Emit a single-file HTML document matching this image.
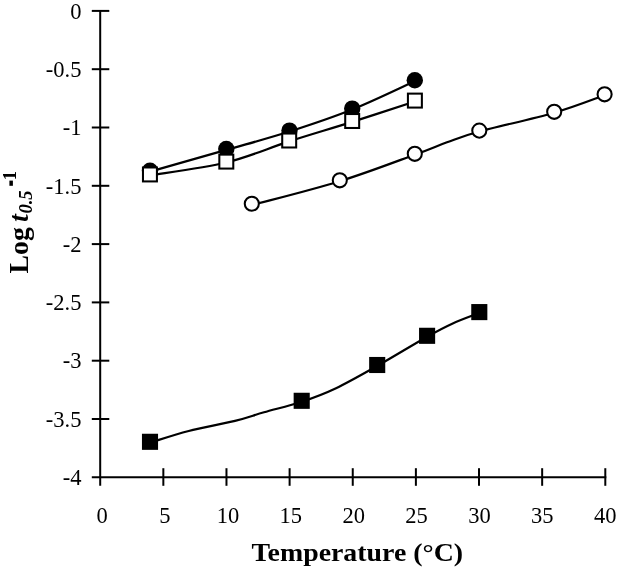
<!DOCTYPE html>
<html><head><meta charset="utf-8"><title>Chart</title>
<style>
html,body{margin:0;padding:0;background:#fff;}
body{width:617px;height:571px;overflow:hidden;font-family:"Liberation Serif",serif;}
svg{display:block;will-change:transform;}
</style></head><body>
<svg width="617" height="571" viewBox="0 0 617 571">
<rect width="617" height="571" fill="#fff"/>
<g stroke="#000" stroke-width="2.00" fill="none" stroke-linecap="butt">
<line x1="100.20" y1="9.90" x2="100.20" y2="485.80"/>
<line x1="91.80" y1="477.30" x2="606.30" y2="477.30"/>
<line x1="91.80" y1="10.90" x2="109.30" y2="10.90"/>
<line x1="91.80" y1="69.20" x2="109.30" y2="69.20"/>
<line x1="91.80" y1="127.50" x2="109.30" y2="127.50"/>
<line x1="91.80" y1="185.80" x2="109.30" y2="185.80"/>
<line x1="91.80" y1="244.10" x2="109.30" y2="244.10"/>
<line x1="91.80" y1="302.40" x2="109.30" y2="302.40"/>
<line x1="91.80" y1="360.70" x2="109.30" y2="360.70"/>
<line x1="91.80" y1="419.00" x2="109.30" y2="419.00"/>
<line x1="163.34" y1="468.20" x2="163.34" y2="485.80"/>
<line x1="226.47" y1="468.20" x2="226.47" y2="485.80"/>
<line x1="289.61" y1="468.20" x2="289.61" y2="485.80"/>
<line x1="352.75" y1="468.20" x2="352.75" y2="485.80"/>
<line x1="415.89" y1="468.20" x2="415.89" y2="485.80"/>
<line x1="479.02" y1="468.20" x2="479.02" y2="485.80"/>
<line x1="542.16" y1="468.20" x2="542.16" y2="485.80"/>
<line x1="605.30" y1="468.20" x2="605.30" y2="485.80"/>
</g>
<g font-family="'Liberation Serif', serif" font-size="22.5px" fill="#000">
<text x="81.4" y="18.60" text-anchor="end">0</text>
<text x="81.4" y="76.90" text-anchor="end">-0.5</text>
<text x="81.4" y="135.20" text-anchor="end">-1</text>
<text x="81.4" y="193.50" text-anchor="end">-1.5</text>
<text x="81.4" y="251.80" text-anchor="end">-2</text>
<text x="81.4" y="310.10" text-anchor="end">-2.5</text>
<text x="81.4" y="368.40" text-anchor="end">-3</text>
<text x="81.4" y="426.70" text-anchor="end">-3.5</text>
<text x="81.4" y="485.00" text-anchor="end">-4</text>
<text x="102.10" y="523.2" text-anchor="middle">0</text>
<text x="164.99" y="523.2" text-anchor="middle">5</text>
<text x="227.88" y="523.2" text-anchor="middle">10</text>
<text x="290.76" y="523.2" text-anchor="middle">15</text>
<text x="353.65" y="523.2" text-anchor="middle">20</text>
<text x="416.54" y="523.2" text-anchor="middle">25</text>
<text x="479.42" y="523.2" text-anchor="middle">30</text>
<text x="542.31" y="523.2" text-anchor="middle">35</text>
<text x="605.20" y="523.2" text-anchor="middle">40</text>
</g>
<text transform="translate(357.30 561.30) scale(1.1060 1)" text-anchor="middle" font-family="'Liberation Serif', serif" font-weight="bold" fill="#000" font-size="25.20px">Temperature (°C)</text>
<g transform="translate(28.20 273.50) rotate(-90)" font-family="'Liberation Serif', serif" font-weight="bold" fill="#000">
<text x="0" y="0" font-size="27.80px">Log</text>
<text x="51.50" y="0" font-size="27.80px" font-style="italic">t</text>
<text x="59.90" y="3.50" font-size="18.50px" font-style="italic">0.5</text>
<rect x="87.7" y="-18.8" width="5.2" height="3.5" fill="#000"/>
<text x="93.20" y="-12.50" font-size="18.50px">1</text>
</g>
<g stroke="#000" stroke-width="2.20" fill="none" stroke-linejoin="round">
<path d="M150.00 442.70 C156.45 440.75 174.53 434.63 188.70 431.00 C202.87 427.37 222.45 424.02 235.00 420.90 C247.55 417.78 252.88 415.50 264.00 412.30 C275.12 409.10 289.78 405.68 301.70 401.70 C313.62 397.72 322.92 394.37 335.50 388.40 C348.08 382.43 361.93 374.52 377.20 365.90 C392.47 357.28 414.68 343.70 427.10 336.70 C439.52 329.70 443.00 327.85 451.70 323.90 C460.40 319.95 474.70 314.82 479.30 313.00"/>
<path d="M251.80 205.10 C266.47 201.12 312.63 189.60 339.80 181.20 C366.97 172.80 396.93 161.18 414.80 154.70 C432.67 148.22 436.25 146.17 447.00 142.30 C457.75 138.43 461.43 136.43 479.30 131.50 C497.17 126.57 533.32 118.75 554.20 112.70 C575.08 106.65 596.20 98.12 604.60 95.20"/>
<path d="M150.00 171.60 C162.72 167.98 203.05 156.58 226.30 149.90 C249.55 143.22 268.52 138.23 289.50 131.50 C310.48 124.77 331.32 117.88 352.20 109.50 C373.08 101.12 404.37 85.92 414.80 81.20"/>
<path d="M149.95 175.35 C162.67 173.21 203.09 168.16 226.30 162.50 C249.51 156.84 268.22 148.17 289.20 141.40 C310.18 134.63 331.25 128.55 352.20 121.90 C373.15 115.25 404.45 104.90 414.90 101.50"/>
</g>
<rect x="141.95" y="433.75" width="16.10" height="16.10" fill="#000"/>
<rect x="293.65" y="392.75" width="16.10" height="16.10" fill="#000"/>
<rect x="369.15" y="356.95" width="16.10" height="16.10" fill="#000"/>
<rect x="419.05" y="327.75" width="16.10" height="16.10" fill="#000"/>
<rect x="471.25" y="304.05" width="16.10" height="16.10" fill="#000"/>
<circle cx="251.80" cy="203.70" r="7.05" fill="#fff" stroke="#000" stroke-width="2.05"/>
<circle cx="339.80" cy="180.30" r="7.05" fill="#fff" stroke="#000" stroke-width="2.05"/>
<circle cx="414.80" cy="153.80" r="7.05" fill="#fff" stroke="#000" stroke-width="2.05"/>
<circle cx="479.30" cy="130.60" r="7.05" fill="#fff" stroke="#000" stroke-width="2.05"/>
<circle cx="554.20" cy="111.80" r="7.05" fill="#fff" stroke="#000" stroke-width="2.05"/>
<circle cx="604.60" cy="94.30" r="7.05" fill="#fff" stroke="#000" stroke-width="2.05"/>
<circle cx="150.00" cy="170.70" r="8.20" fill="#000"/>
<circle cx="226.30" cy="149.00" r="8.20" fill="#000"/>
<circle cx="289.50" cy="130.60" r="8.20" fill="#000"/>
<circle cx="352.20" cy="108.60" r="8.20" fill="#000"/>
<circle cx="414.80" cy="80.30" r="8.20" fill="#000"/>
<rect x="142.97" y="167.47" width="13.95" height="13.95" fill="#fff" stroke="#000" stroke-width="2.05"/>
<rect x="219.33" y="154.62" width="13.95" height="13.95" fill="#fff" stroke="#000" stroke-width="2.05"/>
<rect x="282.22" y="133.53" width="13.95" height="13.95" fill="#fff" stroke="#000" stroke-width="2.05"/>
<rect x="345.22" y="114.03" width="13.95" height="13.95" fill="#fff" stroke="#000" stroke-width="2.05"/>
<rect x="407.92" y="93.62" width="13.95" height="13.95" fill="#fff" stroke="#000" stroke-width="2.05"/>
</svg>
</body></html>
